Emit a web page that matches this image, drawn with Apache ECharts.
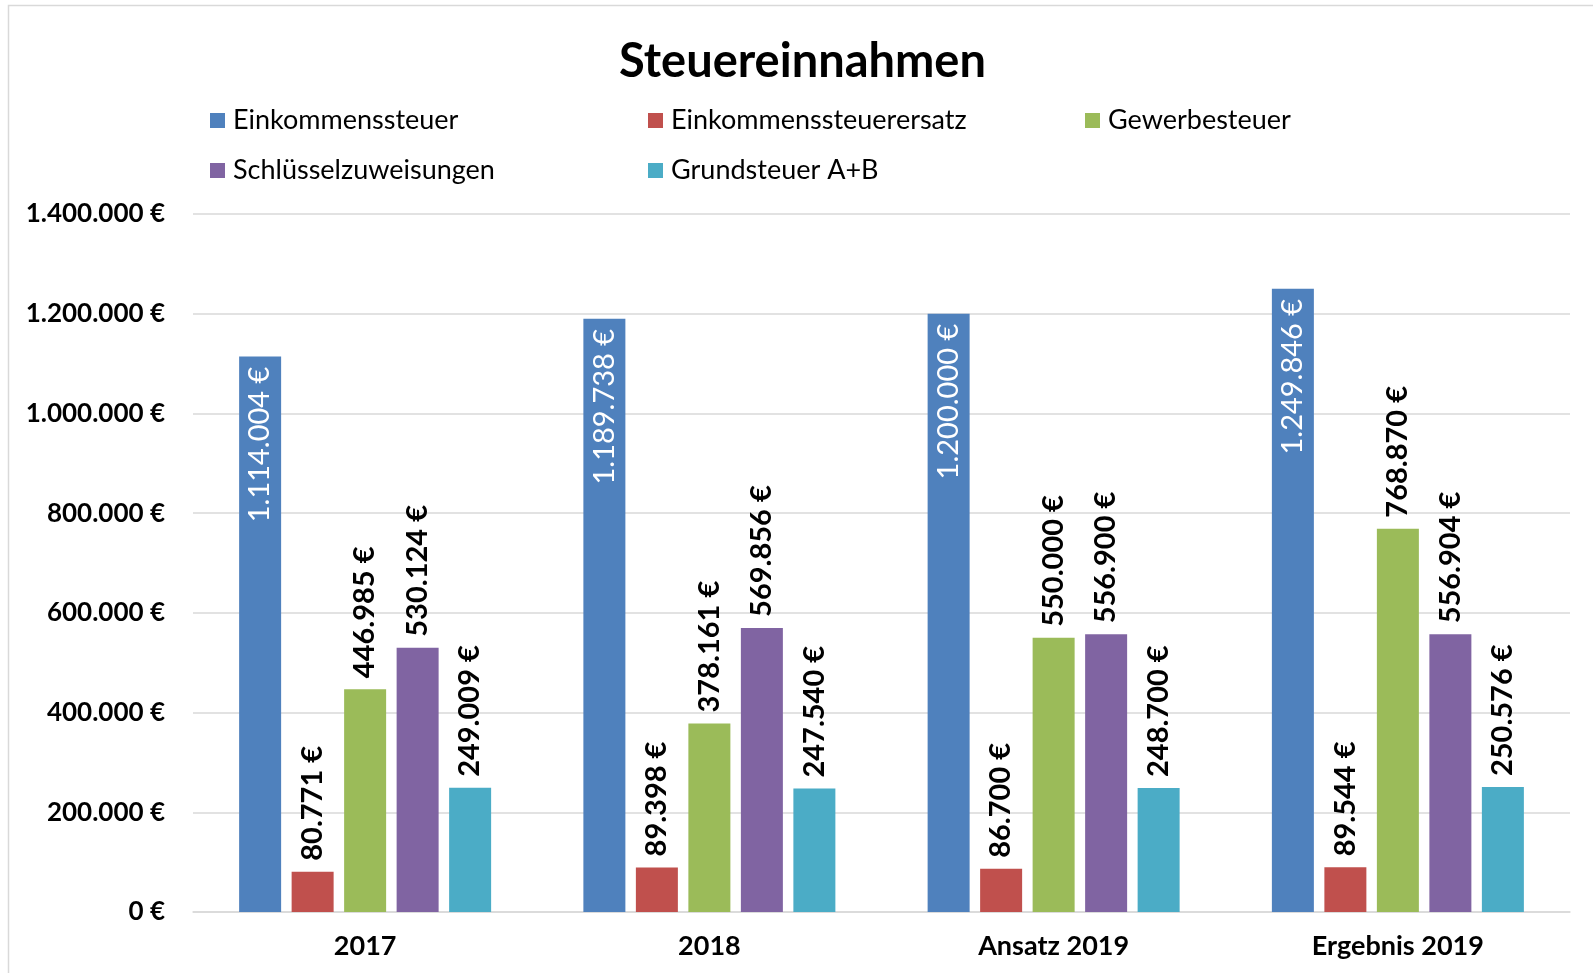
<!DOCTYPE html>
<html>
<head>
<meta charset="utf-8">
<script src="https://cdn.jsdelivr.net/npm/echarts@6/dist/echarts.min.js"></script>
<style>
  html, body { margin: 0; padding: 0; background: #fff; }
  #chart { width: 1593px; height: 973px; }
</style>
</head>
<body>
<div id="chart"></div>
<script>
var categories = ['2017', '2018', 'Ansatz 2019', 'Ergebnis 2019'];
var einkommenssteuer = [1114004, 1189738, 1200000, 1249846];
var einkommenssteuerersatz = [80771, 89398, 86700, 89544];
var gewerbesteuer = [446985, 378161, 550000, 768870];
var schluesselzuweisungen = [530124, 569856, 556900, 556904];
var grundsteuer = [249009, 247540, 248700, 250576];

var font = 'Lato';
var chart = echarts.init(document.getElementById('chart'));

function euro(v) {
  return String(v).replace(/\B(?=(\d{3})+(?!\d))/g, '.') + ' €';
}

var topLabel = {
  show: true,
  position: 'top',
  rotate: 90,
  align: 'left',
  verticalAlign: 'middle',
  distance: 11,
  color: '#000',
  fontWeight: 'bold',
  fontSize: 29,
  fontFamily: font,
  formatter: function (p) { return euro(p.value); }
};

function bar(name, data, color, label) {
  return {
    name: name,
    type: 'bar',
    data: data,
    barWidth: 42,
    barGap: '25%',
    itemStyle: { color: color },
    label: label || topLabel
  };
}

var legendText = { fontSize: 27, fontFamily: font, color: '#000', padding: [0, 0, 0, 3] };

chart.setOption({
  backgroundColor: '#fff',
  title: {
    text: 'Steuereinnahmen',
    left: 619,
    top: 38,
    padding: 0,
    textStyle: { fontSize: 47, fontWeight: 'bold', fontFamily: font, color: '#000' }
  },
  graphic: [{
    type: 'rect',
    shape: { x: 8.5, y: 5.5, width: 1700, height: 1100 },
    style: { fill: null, stroke: '#d9d9d9', lineWidth: 1.5 },
    silent: true
  }],
  legend: [
    { data: ['Einkommenssteuer', 'Schlüsselzuweisungen'], left: 205, top: 102 },
    { data: ['Einkommenssteuerersatz', 'Grundsteuer A+B'], left: 643, top: 102 },
    { data: ['Gewerbesteuer'], left: 1080, top: 102 }
  ].map(function (l) {
    return Object.assign(l, {
      orient: 'vertical',
      itemWidth: 15,
      itemHeight: 15,
      itemGap: 23,
      icon: 'rect',
      textStyle: legendText
    });
  }),
  grid: { left: 193, right: 23, top: 214, bottom: 61 },
  xAxis: {
    type: 'category',
    data: categories,
    axisTick: { show: false },
    axisLine: { lineStyle: { color: '#d9d9d9', width: 1.5 } },
    axisLabel: { color: '#000', fontWeight: 'bold', fontSize: 27, fontFamily: font, margin: 21 }
  },
  yAxis: {
    type: 'value',
    min: 0,
    max: 1400000,
    interval: 200000,
    axisLine: { show: false },
    axisTick: { show: false },
    splitLine: { lineStyle: { color: '#d9d9d9', width: 1.5 } },
    axisLabel: {
      color: '#000', fontWeight: 'bold', fontSize: 26, fontFamily: font, margin: 28,
      formatter: euro
    }
  },
  series: [
    bar('Einkommenssteuer', einkommenssteuer, '#4F81BD', Object.assign({}, topLabel, {
      position: 'insideTop', align: 'right', color: '#fff', fontWeight: 'normal', distance: 10
    })),
    bar('Einkommenssteuerersatz', einkommenssteuerersatz, '#C0504D'),
    bar('Gewerbesteuer', gewerbesteuer, '#9BBB59'),
    bar('Schlüsselzuweisungen', schluesselzuweisungen, '#8064A2'),
    bar('Grundsteuer A+B', grundsteuer, '#4BACC6')
  ]
});
</script>
</body>
</html>
